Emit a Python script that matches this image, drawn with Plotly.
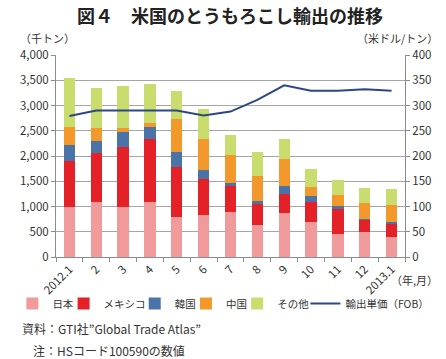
import plotly.graph_objects as go

months = ["2012.1", "2", "3", "4", "5", "6", "7", "8", "9", "10", "11", "12", "2013.1"]
japan = [1000, 1085, 990, 1085, 785, 825, 885, 635, 870, 685, 455, 495, 390]
mexico = [910, 980, 1180, 1250, 1000, 715, 520, 420, 370, 405, 490, 250, 270]
korea = [300, 230, 305, 240, 285, 190, 60, 55, 160, 125, 60, 5, 40]
china = [355, 260, 75, 85, 670, 615, 555, 495, 545, 175, 225, 325, 335]
other = [985, 785, 830, 770, 545, 590, 395, 480, 390, 350, 290, 295, 320]
price = [279, 290, 290, 290, 290, 280, 288, 311, 340, 329, 329, 332, 329]

FONT = "Noto Sans CJK JP"
TXT = "#333333"
PL, PR, PT, PB = 40, 408, 55, 257   # plot area in pixels
PW, PH = PR - PL, PB - PT

def px_x(x):
    return (x - PL) / PW

def px_y(y):
    return (PB - y) / PH

fig = go.Figure()
series = [
    ("日本", japan, "#F19A9B"),
    ("メキシコ", mexico, "#E42127"),
    ("韓国", korea, "#4A74A8"),
    ("中国", china, "#F3982B"),
    ("その他", other, "#C9DD6E"),
]
legend_x = [-6, 48, 123, 177, 231, 303]   # left pixel of each legend entry
legend_names = ["legend", "legend2", "legend3", "legend4", "legend5", "legend6"]
for i, (name, vals, col) in enumerate(series):
    fig.add_trace(go.Bar(x=months, y=vals, name=name, marker_color=col,
                         marker_line_width=0, legend=legend_names[i]))
fig.add_trace(go.Scatter(x=months, y=price, name="輸出単価（FOB）", yaxis="y2",
                         mode="lines", line=dict(color="#2E4784", width=2),
                         legend=legend_names[5]))

legends = {}
for i, ln in enumerate(legend_names):
    legends[ln] = dict(orientation="h", x=px_x(legend_x[i]), xanchor="left",
                       y=px_y(289), yanchor="top", font=dict(size=10.5, color=TXT),
                       itemwidth=30, bgcolor="rgba(0,0,0,0)", borderwidth=0)

fig.update_layout(
    width=446, height=359,
    margin=dict(l=PL, r=446 - PR, t=PT, b=359 - PB),
    barmode="stack", bargap=0.58,
    plot_bgcolor="white", paper_bgcolor="white",
    font=dict(family=FONT, size=11, color=TXT),
    showlegend=True,
    xaxis=dict(type="category", tickangle=-45, showgrid=False, showline=True,
               linecolor="#8c8c8c", ticks="outside", tickson="boundaries",
               ticklen=4, tickcolor="#8c8c8c", tickfont=dict(size=11.5, color=TXT),
               automargin=False),
    yaxis=dict(range=[0, 4000], dtick=500, tickformat=",", showgrid=True,
               gridcolor="#a6a6a6", gridwidth=1, showline=True, linecolor="#8c8c8c",
               ticks="outside", ticklen=4, tickcolor="#8c8c8c", zeroline=False,
               tickfont=dict(size=11.5, color=TXT), automargin=False),
    yaxis2=dict(range=[0, 400], dtick=50, overlaying="y", side="right",
                showgrid=False, showline=True, linecolor="#8c8c8c",
                ticks="outside", ticklen=4, tickcolor="#8c8c8c", zeroline=False,
                tickfont=dict(size=11.5, color=TXT), automargin=False),
    **legends,
)

def ann(text, x, y, size=11.5, xanchor="left", bold=False):
    fig.add_annotation(
        text=f"<b>{text}</b>" if bold else text,
        x=px_x(x), y=px_y(y), xref="paper", yref="paper",
        xanchor=xanchor, yanchor="middle", showarrow=False,
        font=dict(size=size, color="#222222" if bold else TXT, family=FONT))

ann("図４　米国のとうもろこし輸出の推移", 223, 15, size=18, xanchor="center", bold=True)
ann("（千トン）", 0, 38, size=11)
ann("（米ドル/トン）", 445, 38, size=11, xanchor="right")
ann("（年,月）", 445, 280, size=11, xanchor="right")
ann("資料：GTI社”Global Trade Atlas”", 2, 328, size=12)
ann("注：HSコード100590の数値", 14, 350, size=12)

fig.write_html("out.html", config={"displayModeBar": False},
               post_script="document.body.style.margin='0';document.body.style.overflow='hidden';")
